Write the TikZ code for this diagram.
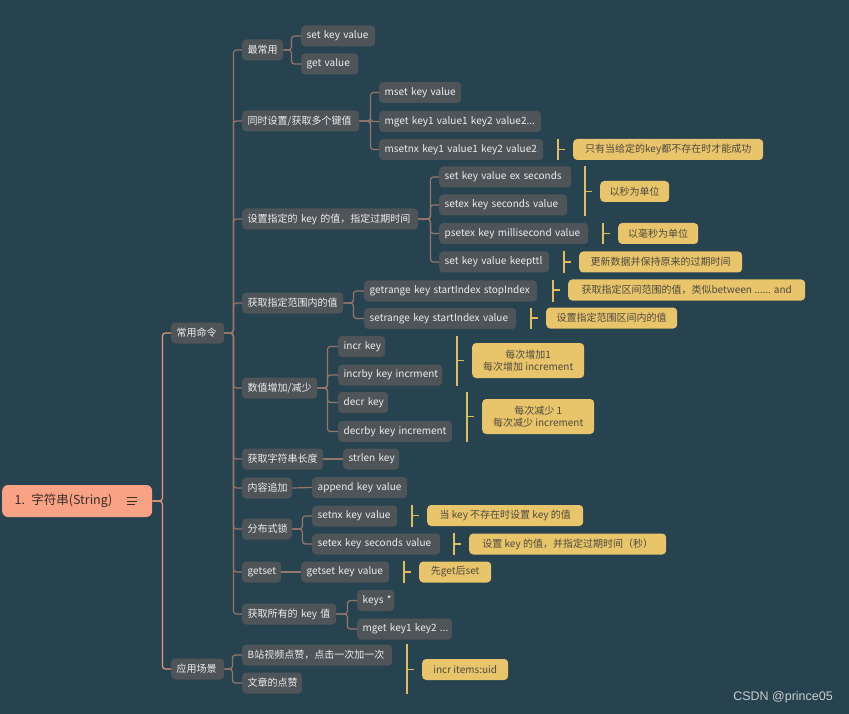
\documentclass[tikz,border=0pt]{standalone}
\usepackage{fontspec}
\setmainfont{Noto Sans CJK SC}
\newfontfamily\wmfont{Liberation Sans}
\definecolor{bgcol}{HTML}{27434F}
\definecolor{ndfill}{HTML}{4E5457}
\definecolor{ndtext}{HTML}{EEEEEE}
\definecolor{rootfill}{HTML}{F9A285}
\definecolor{roottext}{HTML}{3A2E2A}
\definecolor{rootline}{HTML}{EC977B}
\definecolor{linetwo}{HTML}{96766B}
\definecolor{notefill}{HTML}{E8C46A}
\definecolor{notetext}{HTML}{4E4A42}
\definecolor{brkcol}{HTML}{E2BD5C}
\definecolor{wmcol}{HTML}{C9CED0}
\newcommand\nbrk[3]{%
  \coordinate (bx) at ([xshift=-15pt]#3.west);
  \draw[brk] (bx |- #1.north) -- (bx |- #2.south);
  \draw[brk] (bx) -- ++(7,0);}
\begin{document}
\begin{tikzpicture}[x=1pt,y=-1pt,
  nd/.style={fill=ndfill, text=ndtext, rounded corners=4pt, minimum height=21pt,
    inner xsep=5.5pt, inner ysep=0pt, anchor=west, font=\fontsize{10}{11.5}\selectfont},
  wd/.style={minimum width=#1, text width=#1-11pt, align=left,
    execute at begin node=\hbox\bgroup, execute at end node=\egroup},
  note/.style={nd, fill=notefill, text=notetext},
  cone/.style={draw=rootline, line width=1.2pt, rounded corners=3pt},
  ctwo/.style={draw=linetwo, line width=1.2pt, rounded corners=3pt},
  brk/.style={draw=brkcol, line width=1.6pt}]
\fill[bgcol] (0,0) rectangle (849,714);
\useasboundingbox (0,0) rectangle (849,714);

% root
\node[fill=rootfill, text=roottext, rounded corners=6pt, anchor=west, minimum height=32pt,
  text width=125pt, inner xsep=12.5pt, align=left, font=\fontsize{12.5}{14}\selectfont] (root) at (2,501) {1. 字符串(String)};
\draw[roottext, line width=0.9pt] ([xshift=-25pt,yshift=3.5pt]root.east) -- ++(10,0)
  ([xshift=-25pt]root.east) -- ++(10,0)
  ([xshift=-25pt,yshift=-3.5pt]root.east) -- ++(8,0);

% level 1
\node[nd, wd=53pt] (cy) at (171,333) {常用命令};
\node[nd, wd=53pt] (yy) at (171,669) {应用场景};
\draw[cone] (root.east) -- ++(10,0) |- (cy.west);
\draw[cone] (root.east) -- ++(10,0) |- (yy.west);

% level 2
\node[nd, wd=41pt] (zcy) at (242,50) {最常用};
\node[nd, wd=117pt] (tsz) at (242,121) {同时设置/获取多个键值};
\node[nd, wd=176pt] (szgq) at (242,219) {设置指定的 key 的值，指定过期时间};
\node[nd, wd=101pt] (hqfw) at (242,303) {获取指定范围内的值};
\node[nd, wd=75pt] (szzj) at (242,388) {数值增加/减少};
\node[nd, wd=81pt] (cdu) at (242,459) {获取字符串长度};
\node[nd, wd=50pt] (nrzj) at (242,488) {内容追加};
\node[nd, wd=50pt] (fbs) at (242,529) {分布式锁};
\node[nd, wd=39pt] (gs) at (242,572) {getset};
\node[nd, wd=94pt] (hqsy) at (242,614) {获取所有的 key 值};
\node[nd, wd=150pt] (bz) at (242,655) {B站视频点赞，点击一次加一次};
\node[nd, wd=60pt] (wz) at (242,683) {文章的点赞};
\foreach \c in {zcy,tsz,szgq,hqfw,szzj,cdu,nrzj,fbs,gs,hqsy}
  \draw[ctwo] (cy.east) -- ++(9,0) |- (\c.west);
\foreach \c in {bz,wz}
  \draw[ctwo] (yy.east) -- ++(8,0) |- (\c.west);

% level 3
\node[nd, wd=74pt] (skv) at (301,36) {set key value};
\node[nd, wd=57pt] (gv) at (301,64) {get value};
\node[nd, wd=82pt] (mset) at (379,92.5) {mset key value};
\node[nd, wd=162pt] (mget) at (379,121.5) {mget key1 value1 key2 value2...};
\node[nd, wd=164pt] (msetnx) at (379,149.5) {msetnx key1 value1 key2 value2};
\node[nd, wd=132pt] (sex) at (439,177) {set key value ex seconds};
\node[nd, wd=128pt] (setex) at (439,205) {setex key seconds value};
\node[nd, wd=149pt] (psetex) at (439,233.5) {psetex key millisecond value};
\node[nd, wd=110pt] (kttl) at (439,262) {set key value keepttl};
\node[nd, wd=173pt] (grange) at (364,291) {getrange key startIndex stopIndex};
\node[nd, wd=152pt] (srange) at (364,318.5) {setrange key startIndex value};
\node[nd, wd=47pt] (incr) at (338,346.5) {incr key};
\node[nd, wd=104pt] (incrby) at (338,375) {incrby key incrment};
\node[nd, wd=50pt] (decr) at (338,402.5) {decr key};
\node[nd, wd=114pt] (decrby) at (338,431.5) {decrby key increment};
\node[nd, wd=56pt] (strlen) at (343,459) {strlen key};
\node[nd, wd=95pt] (append) at (312,487.5) {append key value};
\node[nd, wd=85pt] (setnx) at (312,516) {setnx key value};
\node[nd, wd=128pt] (setexb) at (312,544) {setex key seconds value};
\node[nd, wd=88pt] (gskv) at (301,572) {getset key value};
\node[nd, wd=37pt] (keys) at (357,600.5) {keys *};
\node[nd, wd=95pt] (mgetb) at (357,629) {mget key1 key2 ...};

\foreach \c in {skv,gv} \draw[ctwo] (zcy.east) -- ++(8,0) |- (\c.west);
\foreach \c in {mset,mget,msetnx} \draw[ctwo] (tsz.east) -- ++(11,0) |- (\c.west);
\foreach \c in {sex,setex,psetex,kttl} \draw[ctwo] (szgq.east) -- ++(12,0) |- (\c.west);
\foreach \c in {grange,srange} \draw[ctwo] (hqfw.east) -- ++(10,0) |- (\c.west);
\foreach \c in {incr,incrby,decr,decrby} \draw[ctwo] (szzj.east) -- ++(10,0) |- (\c.west);
\draw[ctwo] (cdu.east) -- (strlen.west);
\draw[ctwo] (nrzj.east) -- (append.west);
\foreach \c in {setnx,setexb} \draw[ctwo] (fbs.east) -- ++(10,0) |- (\c.west);
\draw[ctwo] (gs.east) -- (gskv.west);
\foreach \c in {keys,mgetb} \draw[ctwo] (hqsy.east) -- ++(11,0) |- (\c.west);

% notes
\node[note, minimum width=190pt] (n1) at (573,149.5) {只有当给定的key都不存在时才能成功};
\node[note, minimum width=69pt] (n2) at (600,191.5) {以秒为单位};
\node[note, minimum width=80pt] (n3) at (618,233.5) {以毫秒为单位};
\node[note, minimum width=163pt] (n4) at (579,262) {更新数据并保持原来的过期时间};
\node[note, minimum width=237pt] (n5) at (568,290) {获取指定区间范围的值，类似between ...... and};
\node[note, minimum width=131pt] (n6) at (546,318) {设置指定范围区间内的值};
\node[note, minimum width=112pt, minimum height=35pt, align=center] (n7) at (472,360.5) {每次增加1\\每次增加 increment};
\node[note, minimum width=112pt, minimum height=35pt, align=center] (n8) at (482,416.5) {每次减少 1\\每次减少 increment};
\node[note, minimum width=156pt] (n9) at (427,515.5) {当 key 不存在时设置 key 的值};
\node[note, minimum width=197pt] (n10) at (469,544) {设置 key 的值，并指定过期时间（秒）};
\node[note, minimum width=72pt] (n11) at (419,572) {先get后set};
\node[note, minimum width=86pt] (n12) at (422,669.5) {incr items:uid};

\nbrk{msetnx}{msetnx}{n1}
\nbrk{sex}{setex}{n2}
\nbrk{psetex}{psetex}{n3}
\nbrk{kttl}{kttl}{n4}
\nbrk{grange}{grange}{n5}
\nbrk{srange}{srange}{n6}
\nbrk{incr}{incrby}{n7}
\nbrk{decr}{decrby}{n8}
\nbrk{setnx}{setnx}{n9}
\nbrk{setexb}{setexb}{n10}
\nbrk{gskv}{gskv}{n11}
\nbrk{bz}{wz}{n12}

\node[anchor=east, text=wmcol, font=\wmfont\fontsize{12.5}{14}\selectfont, inner sep=0pt] (wm) at (833,697) {CSDN @prince05};
\end{tikzpicture}
\end{document}
